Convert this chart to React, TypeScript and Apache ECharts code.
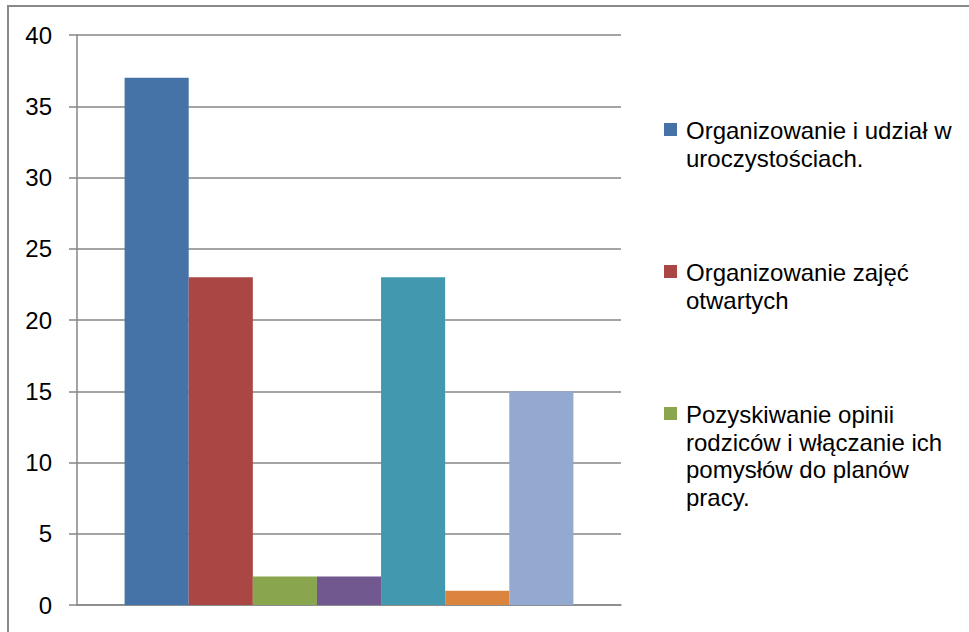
import React, { useEffect, useRef } from "react";
import * as echarts from "echarts";

const categories: string[] = [""];
const seriesNames: string[] = [
  "Organizowanie i udział w\nuroczystościach.",
  "Organizowanie zajęć\notwartych",
  "Pozyskiwanie opinii\nrodziców i włączanie ich\npomysłów do planów\npracy.",
  "Seria 4",
  "Seria 5",
  "Seria 6",
  "Seria 7",
];
const seriesValues: number[] = [37, 23, 2, 2, 23, 1, 15];
const seriesColors: string[] = [
  "#4572A7",
  "#AA4643",
  "#89A54E",
  "#71588F",
  "#4198AF",
  "#DB843D",
  "#93A9CF",
];
const legendShown = 3;
const yTicks = { min: 0, max: 40, interval: 5 };

const FONT = "'Liberation Sans', Arial, sans-serif";

export default function App() {
  const ref = useRef<HTMLDivElement>(null);
  useEffect(() => {
    if (!ref.current) return;
    const chart = echarts.init(ref.current, null, { renderer: "svg" });
    const legendGraphics: any[] = [];
    for (let i = 0; i < legendShown; i++) {
      const top = 117 + i * 142;
      legendGraphics.push({
        type: "rect",
        shape: { x: 664, y: top + 6, width: 13, height: 13 },
        style: { fill: seriesColors[i] },
      });
      legendGraphics.push({
        type: "text",
        x: 686,
        y: top,
        style: {
          text: seriesNames[i],
          font: `24px ${FONT}`,
          lineHeight: 27.5,
          fill: "#000",
          verticalAlign: "top",
          align: "left",
        },
      });
    }
    chart.setOption({
      animation: false,
      backgroundColor: "#fff",
      grid: { left: 77, top: 35, right: 348, bottom: 27, containLabel: false },
      xAxis: {
        type: "category",
        data: categories,
        axisLine: { show: true, lineStyle: { color: "#868686", width: 1.5 } },
        axisTick: { show: false },
        axisLabel: { show: false },
        splitLine: { show: false },
      },
      yAxis: {
        type: "value",
        min: yTicks.min,
        max: yTicks.max,
        interval: yTicks.interval,
        axisLine: { show: true, lineStyle: { color: "#868686", width: 1.5 } },
        axisTick: { show: true, length: 8, lineStyle: { color: "#868686", width: 1.5 } },
        axisLabel: { margin: 25, fontSize: 24, fontFamily: FONT, color: "#000" },
        splitLine: { show: true, lineStyle: { color: "#868686", width: 1.5 } },
      },
      series: seriesNames.map((name, i) => ({
        type: "bar",
        name,
        data: [seriesValues[i]],
        barGap: "0%",
        barCategoryGap: "17.5%",
        itemStyle: { color: seriesColors[i] },
      })),
      graphic: [
        {
          type: "rect",
          shape: { x: 8, y: 6, width: 980, height: 650 },
          style: { fill: "none", stroke: "#898989", lineWidth: 2 },
          z: 100,
        },
        ...legendGraphics,
      ],
    });
    return () => chart.dispose();
  }, []);
  return (
    <div
      ref={ref}
      style={{ position: "fixed", left: 0, top: 0, width: 969, height: 632 }}
    />
  );
}
